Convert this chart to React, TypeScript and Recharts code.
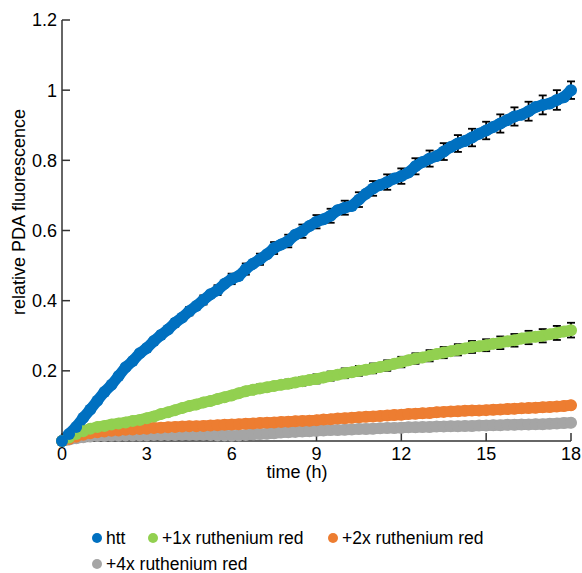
import React from 'react';
import { ComposedChart, Line, XAxis, YAxis, ErrorBar } from 'recharts';

const TIMES = [0,0.25,0.5,0.75,1,1.25,1.5,1.75,2,2.25,2.5,2.75,3,3.25,3.5,3.75,4,4.25,4.5,4.75,5,5.25,5.5,5.75,6,6.25,6.5,6.75,7,7.25,7.5,7.75,8,8.25,8.5,8.75,9,9.25,9.5,9.75,10,10.25,10.5,10.75,11,11.25,11.5,11.75,12,12.25,12.5,12.75,13,13.25,13.5,13.75,14,14.25,14.5,14.75,15,15.25,15.5,15.75,16,16.25,16.5,16.75,17,17.25,17.5,17.75,18];

const HTT = [0,0.02,0.04,0.066,0.09,0.115,0.14,0.16,0.185,0.21,0.228,0.25,0.265,0.285,0.302,0.318,0.337,0.352,0.37,0.385,0.402,0.418,0.43,0.448,0.462,0.47,0.49,0.505,0.518,0.532,0.55,0.56,0.57,0.588,0.598,0.613,0.625,0.632,0.642,0.658,0.665,0.67,0.688,0.705,0.72,0.73,0.738,0.748,0.755,0.765,0.783,0.795,0.805,0.812,0.825,0.838,0.848,0.855,0.865,0.876,0.885,0.895,0.905,0.915,0.925,0.93,0.94,0.952,0.958,0.962,0.972,0.98,1.0];

const RR1 = [0,0.01,0.02,0.028,0.035,0.04,0.043,0.047,0.05,0.053,0.057,0.06,0.065,0.07,0.077,0.082,0.088,0.094,0.1,0.104,0.11,0.114,0.12,0.125,0.13,0.136,0.142,0.146,0.15,0.153,0.157,0.16,0.163,0.167,0.17,0.174,0.177,0.181,0.185,0.189,0.193,0.196,0.2,0.203,0.207,0.211,0.215,0.22,0.225,0.23,0.235,0.238,0.243,0.248,0.252,0.256,0.26,0.264,0.268,0.27,0.273,0.277,0.28,0.284,0.287,0.292,0.295,0.297,0.3,0.304,0.308,0.312,0.316];

const RR2 = [0,0.006,0.012,0.018,0.022,0.025,0.027,0.029,0.03,0.032,0.033,0.034,0.035,0.037,0.038,0.039,0.04,0.041,0.042,0.042,0.043,0.044,0.045,0.046,0.047,0.048,0.049,0.05,0.051,0.052,0.053,0.054,0.055,0.056,0.057,0.058,0.059,0.061,0.062,0.064,0.065,0.066,0.068,0.069,0.07,0.071,0.073,0.074,0.075,0.077,0.078,0.079,0.08,0.082,0.083,0.084,0.085,0.086,0.087,0.087,0.088,0.089,0.09,0.091,0.092,0.093,0.094,0.095,0.096,0.097,0.098,0.1,0.102];

const RR4 = [0,0.004,0.008,0.011,0.013,0.014,0.014,0.015,0.015,0.016,0.016,0.016,0.016,0.017,0.017,0.017,0.017,0.018,0.018,0.018,0.018,0.017,0.016,0.016,0.015,0.016,0.017,0.019,0.02,0.021,0.022,0.024,0.025,0.026,0.027,0.028,0.029,0.03,0.031,0.031,0.032,0.033,0.034,0.034,0.035,0.036,0.037,0.037,0.038,0.039,0.039,0.04,0.04,0.041,0.041,0.042,0.042,0.043,0.043,0.044,0.044,0.045,0.045,0.046,0.046,0.047,0.047,0.048,0.048,0.049,0.05,0.051,0.052];

// error values every half hour (t = 0, 0.5, ..., 18)
const HTT_ERR = [0,0,0,0.005,0.006,0.008,0.009,0.01,0.011,0.012,0.013,0.014,0.015,0.016,0.016,0.017,0.018,0.019,0.019,0.02,0.02,0.021,0.021,0.022,0.022,0.023,0.023,0.024,0.024,0.025,0.025,0.026,0.026,0.027,0.027,0.028,0.025];
const RR1_ERR = [0,0,0,0,0.004,0.005,0.006,0.007,0.008,0.008,0.009,0.009,0.01,0.01,0.011,0.011,0.012,0.012,0.013,0.013,0.014,0.014,0.014,0.015,0.015,0.015,0.016,0.016,0.016,0.017,0.017,0.018,0.018,0.019,0.019,0.02,0.021];

const X_TICKS = [0, 3, 6, 9, 12, 15, 18];
const Y_TICKS = [0.2, 0.4, 0.6, 0.8, 1, 1.2];

const SERIES = [
  { key: 'htt', name: 'htt', color: '#0070C0' },
  { key: 'rr1', name: '+1x ruthenium red', color: '#92D050' },
  { key: 'rr2', name: '+2x ruthenium red', color: '#ED7D31' },
  { key: 'rr4', name: '+4x ruthenium red', color: '#A5A5A5' },
];

const rows = TIMES.map((t, i) => ({
  t,
  htt: HTT[i],
  rr1: RR1[i],
  rr2: RR2[i],
  rr4: RR4[i],
  httErr: i % 2 === 0 ? HTT_ERR[i / 2] : 0,
  rr1Err: i % 2 === 0 ? RR1_ERR[i / 2] : 0,
}));

const FONT = '"Liberation Sans", Arial, sans-serif';
const AXIS_COLOR = '#333333';

const legendPos = [
  { left: 92, top: 530 },
  { left: 148, top: 530 },
  { left: 328, top: 530 },
  { left: 92, top: 556 },
];

export default function App() {
  return (
    <div style={{ position: 'absolute', left: 0, top: 0, width: 582, height: 573, fontFamily: FONT, background: '#fff' }}>
      <ComposedChart width={582} height={573} data={rows} margin={{ top: 20, right: 11, left: 0, bottom: 0 }}>
        <XAxis
          dataKey="t"
          type="number"
          domain={[0, 18]}
          ticks={X_TICKS}
          height={132}
          tickSize={-8}
          tickMargin={14}
          axisLine={{ stroke: AXIS_COLOR, strokeWidth: 1.5 }}
          tickLine={{ stroke: AXIS_COLOR, strokeWidth: 1.5 }}
          tick={{ fill: '#000', fontSize: 18, fontFamily: FONT }}
          label={{
            content: () => (
              <text x={297} y={472} textAnchor="middle" dominantBaseline="central" fontSize={18} fontFamily={FONT} fill="#000">
                time (h)
              </text>
            ),
          }}
        />
        <YAxis
          type="number"
          domain={[0, 1.2]}
          ticks={Y_TICKS}
          width={62}
          tickSize={-8}
          tickMargin={13}
          axisLine={{ stroke: AXIS_COLOR, strokeWidth: 1.5 }}
          tickLine={{ stroke: AXIS_COLOR, strokeWidth: 1.5 }}
          tick={{ fill: '#000', fontSize: 18, fontFamily: FONT }}
          label={{
            content: () => (
              <text x={19} y={212} transform="rotate(-90 19 212)" textAnchor="middle" dominantBaseline="central" fontSize={18} fontFamily={FONT} fill="#000">
                relative PDA fluorescence
              </text>
            ),
          }}
        />
        {[...SERIES].reverse().map((s) => (
          <Line
            key={s.key}
            dataKey={s.key}
            type="linear"
            stroke={s.color}
            strokeWidth={11}
            strokeLinecap="round"
            strokeLinejoin="round"
            dot={{ r: 6, fill: s.color, stroke: 'none' }}
            activeDot={false}
            isAnimationActive={false}
          >
            {s.key === 'htt' && <ErrorBar dataKey="httErr" width={4} strokeWidth={1.8} stroke="#000" direction="y" />}
            {s.key === 'rr1' && <ErrorBar dataKey="rr1Err" width={4} strokeWidth={1.8} stroke="#000" direction="y" />}
          </Line>
        ))}
      </ComposedChart>
      {SERIES.map((s, i) => (
        <div
          key={s.key}
          style={{
            position: 'absolute',
            left: legendPos[i].left,
            top: legendPos[i].top,
            height: 16,
            lineHeight: '16px',
            display: 'flex',
            alignItems: 'center',
            whiteSpace: 'nowrap',
            fontSize: 17.5,
            color: '#000',
          }}
        >
          <span style={{ display: 'inline-block', width: 10, height: 10, borderRadius: 5, background: s.color, marginRight: 4 }} />
          <span>{s.name}</span>
        </div>
      ))}
    </div>
  );
}
